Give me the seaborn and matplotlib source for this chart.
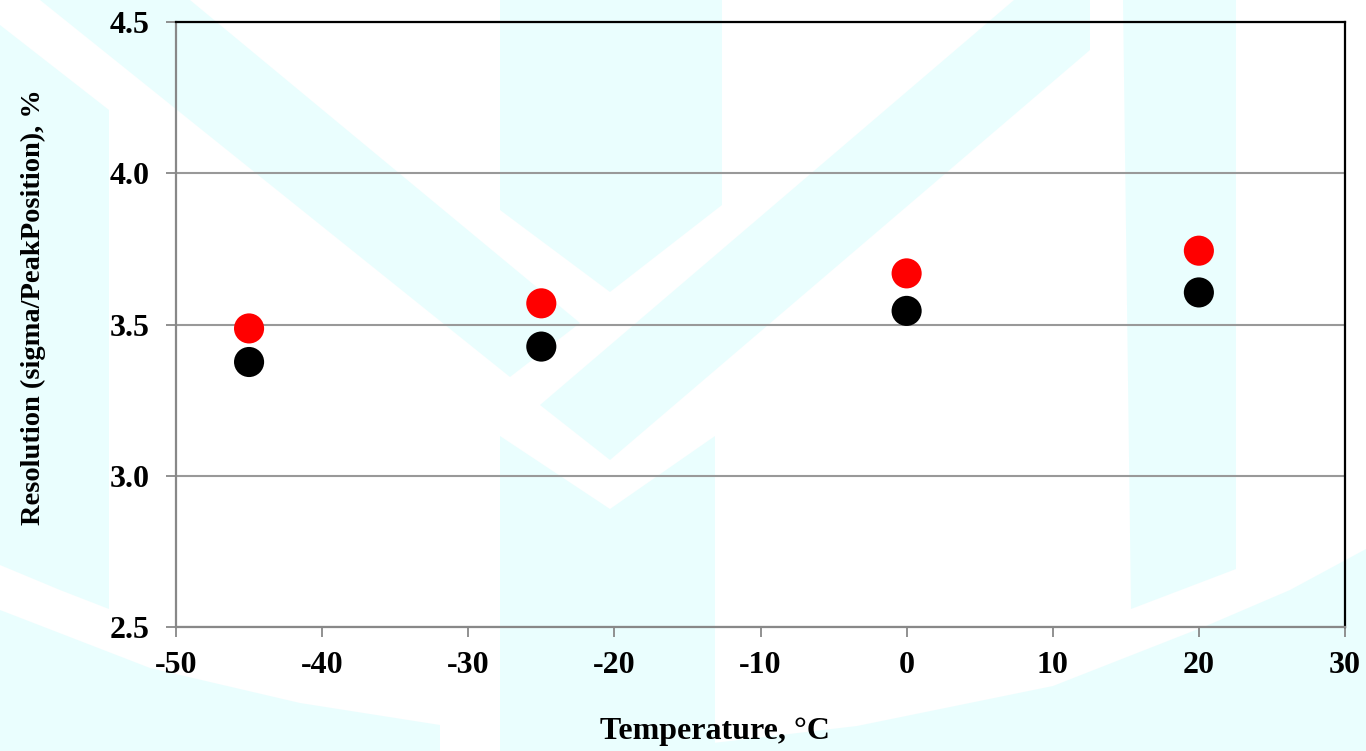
import numpy as np
import pandas as pd
import matplotlib
matplotlib.use("Agg")
import matplotlib.pyplot as plt
import seaborn as sns

# ---- data ----
temperature = [-45, -25, 0, 20]
res_red = [3.487, 3.570, 3.669, 3.744]
res_black = [3.376, 3.427, 3.545, 3.606]
series_names = ["Series A", "Series B"]
x_ticks = [-50, -40, -30, -20, -10, 0, 10, 20, 30]
y_ticks = [2.5, 3.0, 3.5, 4.0, 4.5]
x_label = "Temperature, °C"
y_label = "Resolution (sigma/PeakPosition), %"

df = pd.DataFrame({
    "T": temperature * 2,
    "R": res_black + res_red,
    "S": [series_names[0]] * len(temperature) + [series_names[1]] * len(temperature),
})

sns.set_theme(style="white")
plt.rcParams["font.family"] = ["Liberation Serif", "DejaVu Serif"]
plt.rcParams["font.weight"] = "bold"

W, H = 1366, 751
fig = plt.figure(figsize=(W / 100, H / 100), dpi=100)
fig.patch.set_facecolor("white")

# ---- background watermark (decorative) ----
bg = fig.add_axes([0, 0, 1, 1], zorder=0)
bg.set_xlim(0, W)
bg.set_ylim(H, 0)
bg.axis("off")
wm = "#EAFEFE"
shapes = [
    # left vertical bar
    [(0, 25), (109, 110), (109, 609), (60, 590), (0, 565)],
    # left diagonal band
    [(40, 0), (190, 0), (580, 323), (510, 377)],
    # right diagonal band
    [(1014, 0), (1090, 0), (1090, 50), (610, 460), (540, 405)],
    # top centre bar
    [(500, 0), (722, 0), (722, 205), (610, 292), (500, 210)],
    # lower centre bar
    [(500, 436), (610, 509), (715, 436), (715, 751), (500, 751)],
    # right vertical bar
    [(1123, 0), (1236, 0), (1236, 569), (1131, 609)],
    # bottom-left arc region
    [(0, 610), (150, 668), (300, 703), (440, 725), (440, 751), (0, 751)],
    # bottom-right arc region
    [(713, 743), (857, 726), (1053, 686), (1206, 626), (1290, 590), (1366, 549), (1366, 751), (713, 751)],
]
for poly in shapes:
    xs, ys = zip(*poly)
    bg.fill(xs, ys, color=wm, lw=0)

# ---- main axes ----
x0, x1 = 176, 1345
y0, y1 = 22, 627
ax = fig.add_axes([x0 / W, (H - y1) / H, (x1 - x0) / W, (y1 - y0) / H], zorder=1)
ax.patch.set_alpha(0)

sns.scatterplot(
    data=df, x="T", y="R", hue="S",
    palette={series_names[0]: "#000000", series_names[1]: "#FF0000"},
    s=470, edgecolor="none", linewidth=0, legend=False, ax=ax, zorder=3,
)

ax.set_xlim(-50, 30)
ax.set_ylim(2.5, 4.5)
ax.set_xticks(x_ticks)
ax.set_yticks(y_ticks)
ax.set_xticklabels([str(v) for v in x_ticks])
ax.set_yticklabels([f"{v:.1f}" for v in y_ticks])

ax.yaxis.grid(True, color="#999999", lw=1.5)
ax.xaxis.grid(False)
ax.set_axisbelow(True)

for side in ["top", "right"]:
    ax.spines[side].set_color("black")
    ax.spines[side].set_linewidth(1.6)
for side in ["left", "bottom"]:
    ax.spines[side].set_color("#888888")
    ax.spines[side].set_linewidth(1.6)

ax.tick_params(axis="both", direction="out", length=7, width=1.3, color="#888888",
               labelsize=23, labelcolor="black", bottom=True, left=True)
ax.tick_params(axis="y", pad=12)
ax.tick_params(axis="x", pad=10)
for lab in ax.get_xticklabels() + ax.get_yticklabels():
    lab.set_fontweight("bold")

ax.set_xlabel(x_label, fontsize=23, fontweight="bold", color="black")
ax.set_ylabel(y_label, fontsize=20.5, fontweight="bold", color="black")
ax.xaxis.label.set_va("center")
ax.yaxis.label.set_va("center")
ax.xaxis.set_label_coords((715 - x0) / (x1 - x0), -(732 - y1) / (y1 - y0))
ax.yaxis.set_label_coords(-(176 - 33) / (x1 - x0), (627 - 307) / (y1 - y0))

fig.savefig("out.png", dpi=100)
